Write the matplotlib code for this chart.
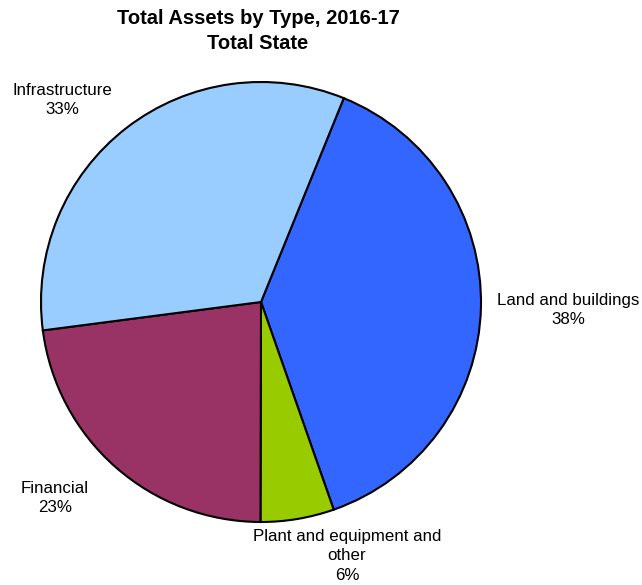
import matplotlib
matplotlib.use("Agg")
import matplotlib.pyplot as plt

plt.rcParams['font.family'] = ['Liberation Sans', 'DejaVu Sans']

# data, in clockwise order from the first slice
categories = ['Land and buildings', 'Plant and equipment and\nother', 'Financial', 'Infrastructure']
shares = [38.5, 5.4, 22.9, 33.2]
pct_labels = ['38%', '6%', '23%', '33%']
colors = ['#3366FF', '#99CC00', '#993366', '#99CCFF']

W, H = 642, 585
fig = plt.figure(figsize=(W / 100, H / 100), dpi=100)

# pie centre (261, 302) px, radius 220 px
cx, cy, r = 261, 302, 220
ax = fig.add_axes([(cx - r) / W, (H - cy - r) / H, 2 * r / W, 2 * r / H])
ax.pie(shares, colors=colors, startangle=90 - 22.1, counterclock=False,
       wedgeprops=dict(edgecolor='black', linewidth=1.5))
ax.set_xlim(-1, 1)
ax.set_ylim(-1, 1)
ax.set_aspect('auto')
ax.axis('off')

# label centres in pixels
label_pos = [(568, 310), (347, 556), (55, 498), (62, 100)]
for cat, pct, (px, py) in zip(categories, pct_labels, label_pos):
    ax.text((px - cx) / r, (cy - py) / r, f'{cat}\n{pct}', ha='center', va='center',
            fontsize=12.2, clip_on=False, linespacing=1.4)

fig.text(258 / W, 1 - 31 / H, 'Total Assets by Type, 2016-17\nTotal State',
         ha='center', va='center', fontsize=14.5, fontweight='bold', linespacing=1.4)

fig.savefig('out.png', dpi=100)
